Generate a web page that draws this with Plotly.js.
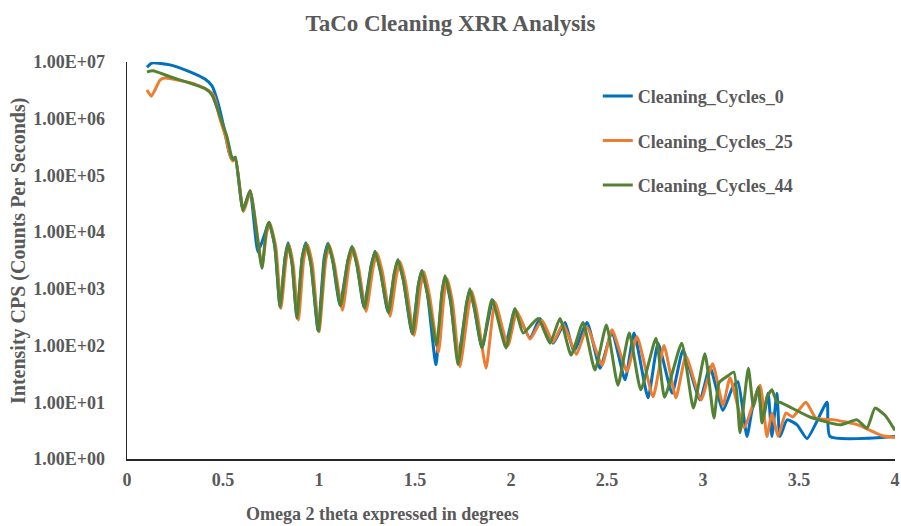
<!DOCTYPE html>
<html>
<head>
<meta charset="utf-8">
<script src="https://cdn.plot.ly/plotly-3.0.1.min.js"></script>
<style>
  html, body { margin: 0; padding: 0; background: #ffffff; }
  #chart { width: 901px; height: 526px; }
</style>
</head>
<body>
<div id="chart"></div>
<script>
// XRR scans: omega-2theta angle (degrees) vs intensity (counts per second)
const seriesNames = ["Cleaning_Cycles_0", "Cleaning_Cycles_25", "Cleaning_Cycles_44"];
const seriesColors = ["#0070C0", "#ED7D31", "#548235"];

const cycles0X = [0.104, 0.130, 0.224, 0.328, 0.406, 0.443, 0.474, 0.505, 0.531, 0.547, 0.563,
  0.604, 0.641, 0.682, 0.725, 0.740, 0.770, 0.797, 0.823, 0.839, 0.860, 0.885, 0.912, 0.932,
  0.958, 0.995, 1.027, 1.047, 1.072, 1.109, 1.150, 1.172, 1.198, 1.234, 1.272, 1.292, 1.320,
  1.359, 1.392, 1.411, 1.440, 1.484, 1.518, 1.536, 1.565, 1.609, 1.640, 1.656, 1.685, 1.724,
  1.768, 1.786, 1.812, 1.849, 1.906, 1.974, 2.021,
  2.099, 2.151, 2.219, 2.281, 2.328, 2.396, 2.464, 2.526, 2.594, 2.641, 2.714, 2.766, 2.839,
  2.896, 2.984, 3.036, 3.104, 3.156, 3.182, 3.229, 3.255, 3.286, 3.313, 3.339, 3.359, 3.385,
  3.401, 3.438, 3.490, 3.542, 3.646, 3.661, 4.000];
const cycles0Y = [8.1e6, 9.6e6, 8.9e6, 6.7e6, 5.0e6, 3.8e6, 1.9e6, 6.9e5, 2.6e5, 1.9e5, 2.1e5,
  2.5e4, 5.3e4, 4.5e3, 1.1e4, 1.5e4, 5.6e3, 480, 3.5e3, 6.5e3, 2.8e3, 316, 3.5e3, 6.5e3,
  2.8e3, 186, 3.5e3, 6.4e3, 3.0e3, 520, 3.1e3, 5.6e3, 2.6e3, 480, 2.6e3, 4.6e3, 2.1e3,
  390, 1.8e3, 3.2e3, 1.4e3, 166, 1.2e3, 2.1e3, 800, 46, 800, 1.6e3, 600, 60,
  520, 960, 400, 91, 630, 115, 430,
  135, 300, 110, 255, 78, 255, 40, 174, 25, 166, 12, 110, 14.5,
  83, 11, 42, 7.2, 19, 23, 2.5, 7.2, 18, 4.9, 14.5, 2.5, 14.5,
  2.5, 4.9, 4.0, 2.3, 10, 2.5, 2.5];

const cycles25X = [0.104, 0.127, 0.172, 0.198, 0.344, 0.422, 0.453, 0.484, 0.516, 0.536, 0.552,
  0.565, 0.607, 0.643, 0.703, 0.728, 0.745, 0.776, 0.802, 0.828, 0.844, 0.866, 0.893, 0.920,
  0.940, 0.966, 1.000, 1.035, 1.055, 1.080, 1.122, 1.158, 1.180, 1.206, 1.245, 1.282, 1.302,
  1.330, 1.370, 1.403, 1.422, 1.451, 1.495, 1.529, 1.547, 1.576, 1.622, 1.651, 1.667, 1.696,
  1.734, 1.779, 1.797, 1.823, 1.870, 1.917, 1.984,
  2.031, 2.099, 2.161, 2.219, 2.271, 2.341, 2.396, 2.474, 2.526, 2.604, 2.656, 2.740, 2.797,
  2.859, 2.911, 2.990, 3.050, 3.104, 3.141, 3.214, 3.297, 3.333, 3.359, 3.391, 3.432, 3.467,
  3.536, 3.589, 3.684, 3.806, 3.930, 4.000];
const cycles25Y = [3.2e6, 2.5e6, 4.8e6, 5.2e6, 4.2e6, 3.2e6, 2.5e6, 1.0e6, 4.5e5, 2.3e5, 1.8e5,
  2.0e5, 2.3e4, 5.2e4, 2.6e3, 1.0e4, 1.4e4, 5.2e3, 450, 3.2e3, 6.0e3, 2.6e3, 280, 3.2e3,
  6.0e3, 2.6e3, 175, 3.2e3, 5.8e3, 2.7e3, 420, 2.9e3, 5.2e3, 2.4e3, 400, 2.4e3, 4.3e3,
  2.0e3, 330, 1.7e3, 3.0e3, 1.3e3, 150, 1.1e3, 2.0e3, 750, 75, 750, 1.5e3, 560,
  42, 480, 900, 380, 40, 580, 100,
  400, 130, 280, 115, 240, 70, 210, 45, 190, 35, 145, 12.5, 100,
  12, 65, 11, 48, 8.9, 27, 3.6, 20, 2.5, 6.5, 2.5, 6.5, 5.5,
  10, 5.2, 4.9, 4.0, 2.6, 2.4];

const cycles44X = [0.104, 0.135, 0.224, 0.406, 0.443, 0.484, 0.521, 0.542, 0.552, 0.565, 0.604,
  0.641, 0.703, 0.725, 0.740, 0.770, 0.797, 0.823, 0.839, 0.860, 0.885, 0.912, 0.932, 0.958,
  0.997, 1.029, 1.049, 1.074, 1.112, 1.150, 1.172, 1.198, 1.237, 1.272, 1.292, 1.320, 1.362,
  1.392, 1.411, 1.440, 1.487, 1.518, 1.536, 1.565, 1.612, 1.640, 1.656, 1.685, 1.724, 1.768,
  1.786, 1.812, 1.849, 1.901, 1.974, 2.021, 2.063,
  2.141, 2.203, 2.255, 2.313, 2.375, 2.437, 2.497, 2.557, 2.616, 2.676, 2.755, 2.800, 2.889,
  2.950, 3.010, 3.057, 3.083, 3.115, 3.161, 3.193, 3.236, 3.263, 3.289, 3.307, 3.333, 3.359,
  3.385, 3.401, 3.557, 3.714, 3.802, 3.854, 3.896, 3.948, 4.000];
const cycles44Y = [6.7e6, 7.0e6, 5.5e6, 3.4e6, 2.6e6, 1.1e6, 4.8e5, 2.3e5, 1.9e5, 2.1e5, 2.4e4,
  5.4e4, 2.3e3, 1.1e4, 1.5e4, 5.6e3, 480, 3.4e3, 6.2e3, 2.7e3, 300, 3.4e3, 6.2e3, 2.7e3,
  180, 3.4e3, 6.2e3, 2.9e3, 500, 3.1e3, 5.6e3, 2.6e3, 460, 2.5e3, 4.5e3, 2.0e3, 380,
  1.9e3, 3.3e3, 1.4e3, 160, 1.2e3, 2.1e3, 800, 100, 850, 1.7e3, 650, 46, 550,
  1.0e3, 420, 91, 650, 91, 450, 166,
  300, 110, 300, 68, 255, 37, 230, 20, 166, 16.6, 135, 12.3, 110,
  7.9, 72, 5.3, 22, 27, 34, 2.9, 40, 8.3, 18.6, 4.3, 12.3, 16.6,
  10, 10, 5.5, 4.0, 4.9, 3.5, 7.9, 5.9, 3.2];

const xTickVals = [0, 0.5, 1, 1.5, 2, 2.5, 3, 3.5, 4];
const xTickText = ["0", "0.5", "1", "1.5", "2", "2.5", "3", "3.5", "4"];
const yTickVals = [1, 10, 100, 1000, 1e4, 1e5, 1e6, 1e7];
const yTickText = ["1.00E+00", "1.00E+01", "1.00E+02", "1.00E+03", "1.00E+04", "1.00E+05", "1.00E+06", "1.00E+07"];

const seriesX = [cycles0X, cycles25X, cycles44X];
const seriesY = [cycles0Y, cycles25Y, cycles44Y];

const font = "'Liberation Serif', 'Times New Roman', serif";
const textGray = "#595959";

const traces = seriesNames.map((name, i) => ({
  x: seriesX[i],
  y: seriesY[i],
  name: name,
  type: "scatter",
  mode: "lines",
  legendgroup: "g" + i,
  line: { color: seriesColors[i], width: 3, shape: "spline", smoothing: 0.5 }
}));

const layout = {
  width: 901,
  height: 526,
  paper_bgcolor: "#ffffff",
  plot_bgcolor: "#ffffff",
  margin: { l: 127, r: 6, t: 62, b: 67 },
  showlegend: true,
  title: {
    text: "<b>TaCo Cleaning XRR Analysis</b>",
    font: { family: font, size: 23, color: textGray },
    xref: "container", x: 0.5, xanchor: "center",
    yref: "container", y: 0.956, yanchor: "middle"
  },
  xaxis: {
    range: [0, 4],
    tickvals: xTickVals,
    ticktext: xTickText,
    ticks: "outside", ticklen: 4, tickcolor: "rgba(0,0,0,0)",
    tickfont: { family: font, size: 18, color: textGray, weight: "bold" },
    showgrid: false, zeroline: false,
    showline: true, linecolor: "#262626", linewidth: 1.5
  },
  yaxis: {
    type: "log",
    range: [0, 7],
    tickvals: yTickVals,
    ticktext: yTickText,
    ticks: "outside", ticklen: 17, tickcolor: "rgba(0,0,0,0)",
    tickfont: { family: font, size: 18, color: textGray, weight: "bold" },
    showgrid: false, zeroline: false,
    showline: true, linecolor: "#262626", linewidth: 1.5
  },
  legend: {
    x: 0.613, xanchor: "left",
    y: 0.96, yanchor: "top",
    bgcolor: "rgba(0,0,0,0)",
    font: { family: font, size: 18, color: textGray, weight: "bold" },
    tracegroupgap: 18
  },
  annotations: [
    {
      text: "<b>Omega 2 theta expressed in degrees</b>",
      xref: "paper", yref: "paper",
      x: 0.333, y: -0.1385, xanchor: "center", yanchor: "middle",
      showarrow: false,
      font: { family: font, size: 18, color: textGray }
    },
    {
      text: "<b>Intensity CPS (Counts Per Seconds)</b>",
      xref: "paper", yref: "paper",
      x: -0.1406, y: 0.524, xanchor: "center", yanchor: "middle",
      textangle: -90,
      showarrow: false,
      font: { family: font, size: 20, color: textGray }
    }
  ]
};

Plotly.newPlot("chart", traces, layout, { displayModeBar: false, staticPlot: true });
</script>
</body>
</html>
